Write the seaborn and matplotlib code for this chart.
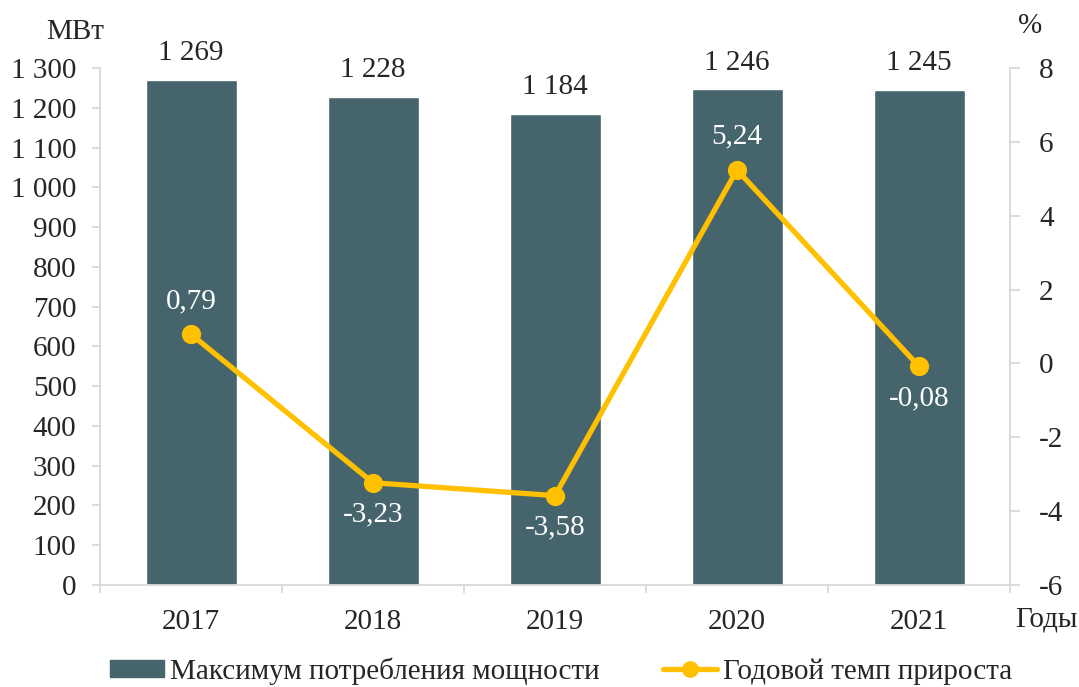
import numpy as np
import pandas as pd
import matplotlib
matplotlib.use('Agg')
import matplotlib.pyplot as plt
from matplotlib.ticker import FuncFormatter, FixedLocator
from matplotlib.patches import Patch
from matplotlib.lines import Line2D
import seaborn as sns

# Данные
years = ['2017', '2018', '2019', '2020', '2021']
max_power = [1269, 1228, 1184, 1246, 1245]          # МВт
growth = [0.79, -3.23, -3.58, 5.24, -0.08]           # %
growth_above = [True, False, False, True, False]     # подпись над точкой или под ней

bar_color = '#45646B'
line_color = '#FFC000'
spine_color = '#D9D9D9'
fs = 21

sns.set_style('white')
plt.rcParams['font.family'] = ['Liberation Serif', 'DejaVu Serif']
plt.rcParams['font.size'] = fs
plt.rcParams['axes.unicode_minus'] = False

df = pd.DataFrame({'year': years, 'power': max_power, 'growth': growth})

fig = plt.figure(figsize=(10.79, 6.87), dpi=100)
ax = fig.add_axes([100 / 1079, 1 - 585 / 687, 910 / 1079, 517 / 687])

sns.barplot(data=df, x='year', y='power', color=bar_color, width=0.5,
            saturation=1, ax=ax)
ax.set_ylim(0, 1300)
ax.set_yticks(np.arange(0, 1301, 100))
ax.yaxis.set_major_formatter(FuncFormatter(lambda v, p: f'{int(v):,}'.replace(',', ' ')))
ax.bar_label(ax.containers[0], labels=[f'{v:,}'.replace(',', ' ') for v in max_power],
             padding=10, fontsize=fs)

ax2 = ax.twinx()
sns.pointplot(data=df, x='year', y='growth', color=line_color, ax=ax2,
              markers='o', markersize=11, linewidth=3.8)
ax2.set_ylim(-6, 8)
ax2.set_yticks(np.arange(-6, 9, 2))

for i, (g, up) in enumerate(zip(growth, growth_above)):
    ax2.annotate(f'{g:.2f}'.replace('.', ','), (i, g),
                 xytext=(0, 24 if up else -23), textcoords='offset points',
                 ha='center', va='center', color='white', fontsize=fs)

for a in (ax, ax2):
    a.set_xlim(-0.5, 4.5)
    a.set_xlabel('')
    a.set_ylabel('')
    for s in a.spines.values():
        s.set_visible(False)

ax.spines['left'].set_visible(True)
ax.spines['bottom'].set_visible(True)
ax2.spines['right'].set_visible(True)
for s in (ax.spines['left'], ax.spines['bottom'], ax2.spines['right']):
    s.set_color(spine_color)
    s.set_linewidth(1.3)

ax.set_xticks(range(len(years)))
ax.set_xticklabels(years)
ax.tick_params(axis='y', left=True, direction='out', length=6, width=1.3,
               color=spine_color, pad=11)
ax2.tick_params(axis='y', right=True, direction='out', length=7, width=1.3,
                color=spine_color, pad=14)
ax.xaxis.set_minor_locator(FixedLocator(np.arange(-0.5, 4.6, 1)))
ax.tick_params(axis='x', which='major', length=0, pad=17)
ax.tick_params(axis='x', which='minor', bottom=True, direction='out', length=6,
               width=1.3, color=spine_color)

fig.text(75 / 1079, 1 - 32 / 687, 'МВт', ha='center', va='center', fontsize=fs)
fig.text(1030 / 1079, 1 - 26 / 687, '%', ha='center', va='center', fontsize=fs)
fig.text(1046 / 1079, 1 - 620 / 687, 'Годы', ha='center', va='center', fontsize=fs)

handles = [Patch(color=bar_color),
           Line2D([], [], color=line_color, lw=3.8, marker='o', markersize=11)]
fig.legend(handles, ['Максимум потребления мощности', 'Годовой темп прироста'],
           loc='center', bbox_to_anchor=(0.52, 1 - 671 / 687), ncol=2, frameon=False,
           fontsize=fs, handlelength=1.85, handleheight=0.5, columnspacing=2.2,
           handletextpad=0.2)
if ax2.get_legend():
    ax2.get_legend().remove()

fig.savefig('out.png', dpi=100)
